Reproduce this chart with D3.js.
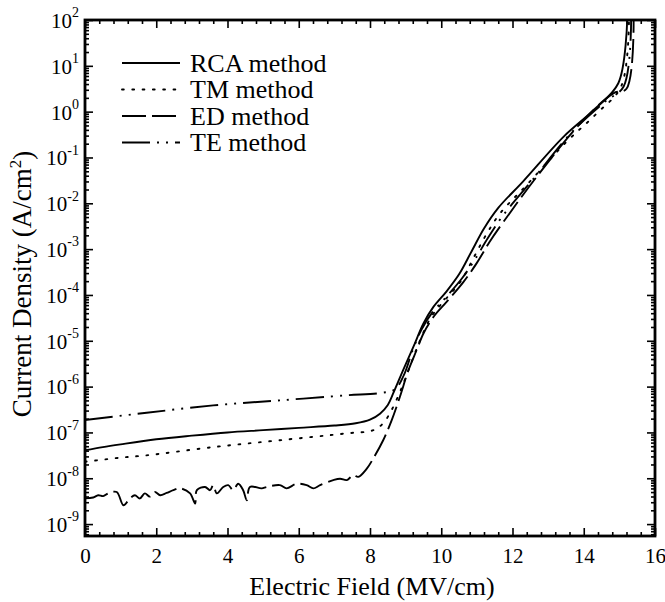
<!DOCTYPE html>
<html>
<head>
<meta charset="utf-8">
<script src="https://cdn.jsdelivr.net/npm/d3@7"></script>
<style>
  html, body { margin: 0; padding: 0; background: #fff; }
  svg { display: block; }
</style>
</head>
<body>
<div id="chart"></div>
<script>
// J-E curves. Current density is kept as log10(J) in A/cm^2.
const xTicks = [0, 2, 4, 6, 8, 10, 12, 14, 16];
const yExponents = [2, 1, 0, -1, -2, -3, -4, -5, -6, -7, -8, -9];

const rcaField = [0, 0.5, 1, 2, 3, 4, 5, 6, 7, 7.6, 8.0, 8.28, 8.5, 8.65, 8.93, 9.22, 9.5, 9.78, 10.15, 10.5, 10.85, 11.2, 11.6, 12.3, 13.43, 14.27, 14.97, 15.22];
const rcaLogJ  = [-7.39, -7.32, -7.26, -7.15, -7.07, -7.0, -6.95, -6.9, -6.85, -6.8, -6.72, -6.59, -6.4, -6.15, -5.64, -5.13, -4.62, -4.26, -3.92, -3.55, -3.05, -2.55, -2.1, -1.52, -0.55, 0.03, 0.62, 2.0];

const tmField = [0, 1, 1.73, 3.6, 5.47, 7.35, 8.1, 8.37, 8.6, 8.85, 9.1, 9.4, 9.7, 10.0, 10.55, 10.9, 11.25, 11.65, 12.4, 13.5, 14.35, 15.05, 15.27];
const tmLogJ  = [-7.64, -7.55, -7.5, -7.32, -7.17, -7.02, -6.95, -6.8, -6.52, -6.1, -5.6, -5.0, -4.5, -4.2, -3.7, -3.2, -2.7, -2.22, -1.6, -0.67, -0.05, 0.55, 2.0];

const edField = [0, 0.23, 0.37, 0.51, 0.65, 0.89, 1.08, 1.26, 1.4, 1.54, 1.68, 1.82, 1.96, 2.11, 2.29, 2.48, 2.67, 2.95, 3.09, 3.14, 3.37, 3.51, 3.6, 3.7, 3.88, 4.02, 4.16, 4.3, 4.44, 4.54, 4.63, 4.96, 5.1, 5.47, 5.66, 5.94, 6.22, 6.41, 6.6, 6.97, 7.16, 7.35, 7.53, 7.67, 7.91, 8.09, 8.37, 8.61, 8.84, 9.08, 9.31, 9.5, 9.78, 10.15, 10.62, 11.0, 11.35, 11.75, 12.68, 13.9, 14.83, 15.2, 15.4];
const edLogJ  = [-8.44, -8.42, -8.37, -8.39, -8.33, -8.3, -8.59, -8.44, -8.37, -8.44, -8.33, -8.4, -8.3, -8.37, -8.32, -8.26, -8.22, -8.33, -8.55, -8.26, -8.19, -8.26, -8.15, -8.33, -8.19, -8.15, -8.26, -8.12, -8.26, -8.48, -8.19, -8.22, -8.19, -8.15, -8.22, -8.12, -8.15, -8.22, -8.15, -8.04, -8.01, -8.04, -7.93, -7.97, -7.79, -7.57, -7.17, -6.73, -6.22, -5.64, -5.2, -4.84, -4.48, -4.15, -3.72, -3.3, -2.85, -2.4, -1.42, -0.26, 0.4, 0.5, 2.0];

const teField = [0, 1.73, 3.6, 5.47, 7.35, 8.28, 8.7, 8.95, 9.2, 9.45, 9.75, 10.1, 10.6, 10.95, 11.3, 11.7, 12.55, 13.7, 14.6, 15.12, 15.33];
const teLogJ  = [-6.73, -6.57, -6.41, -6.3, -6.19, -6.14, -6.06, -5.75, -5.2, -4.75, -4.38, -4.08, -3.62, -3.22, -2.77, -2.3, -1.5, -0.42, 0.22, 0.55, 2.0];

const seriesNames = ['RCA method', 'TM method', 'ED method', 'TE method'];

const W = 665, H = 602;
const margin = { top: 20, right: 10, bottom: 66, left: 85 };
const FONT = '"Liberation Serif", "Times New Roman", serif';

const svg = d3.select('#chart').append('svg')
    .attr('width', W).attr('height', H)
    .attr('font-family', FONT);

const x = d3.scaleLinear().domain([0, 16]).range([margin.left, W - margin.right]);
const y = d3.scaleLog().domain([Math.pow(10, -9.26), 100]).range([H - margin.bottom, margin.top]);

// minor ticks
const xMinor = d3.range(0, 16.01, 0.4).filter(v => Math.abs(v / 2 - Math.round(v / 2)) > 1e-6);
const yMinor = [];
for (let e = -10; e < 2; e++) for (let k = 2; k <= 9; k++) {
    const v = k * Math.pow(10, e);
    if (v >= y.domain()[0] && v <= 100) yMinor.push(v);
}
const yMajor = yExponents.map(e => Math.pow(10, e));

function styleAxis(g) {
    g.select('.domain').remove();
    g.selectAll('line').attr('stroke', '#000').attr('stroke-width', 1.6);
}

const x0 = x.range()[0], x1 = x.range()[1], y0 = y.range()[0], y1 = y.range()[1];

// bottom
svg.append('g').attr('transform', `translate(0,${y0})`)
    .call(d3.axisBottom(x).tickValues(xTicks).tickSize(-8).tickPadding(12).tickFormat(d3.format('d')))
    .call(styleAxis)
    .selectAll('text').attr('font-size', 21).attr('font-family', FONT).attr('fill', '#000');
svg.append('g').attr('transform', `translate(0,${y0})`)
    .call(d3.axisBottom(x).tickValues(xMinor).tickSize(-4).tickFormat(''))
    .call(styleAxis);
// top
svg.append('g').attr('transform', `translate(0,${y1})`)
    .call(d3.axisTop(x).tickValues(xTicks).tickSize(-8).tickFormat(''))
    .call(styleAxis);
svg.append('g').attr('transform', `translate(0,${y1})`)
    .call(d3.axisTop(x).tickValues(xMinor).tickSize(-4).tickFormat(''))
    .call(styleAxis);
// left
const yAx = svg.append('g').attr('transform', `translate(${x0},0)`)
    .call(d3.axisLeft(y).tickValues(yMajor).tickSize(-8).tickPadding(6).tickFormat(''))
    .call(styleAxis);
yAx.selectAll('.tick text').each(function (d) {
    const t = d3.select(this)
        .attr('font-size', 21).attr('font-family', FONT).attr('fill', '#000')
        .attr('dy', '0.35em');
    t.append('tspan').text('10');
    t.append('tspan').attr('font-size', 14).attr('dy', '-0.75em').text(Math.round(Math.log10(d)));
});
svg.append('g').attr('transform', `translate(${x0},0)`)
    .call(d3.axisLeft(y).tickValues(yMinor).tickSize(-4).tickFormat(''))
    .call(styleAxis);
// right
svg.append('g').attr('transform', `translate(${x1},0)`)
    .call(d3.axisRight(y).tickValues(yMajor).tickSize(-8).tickFormat(''))
    .call(styleAxis);
svg.append('g').attr('transform', `translate(${x1},0)`)
    .call(d3.axisRight(y).tickValues(yMinor).tickSize(-4).tickFormat(''))
    .call(styleAxis);

// frame
svg.append('rect')
    .attr('x', x0).attr('y', y1).attr('width', x1 - x0).attr('height', y0 - y1)
    .attr('fill', 'none').attr('stroke', '#000').attr('stroke-width', 2.8);

// clip
svg.append('clipPath').attr('id', 'plotClip').append('rect')
    .attr('x', x0).attr('y', y1).attr('width', x1 - x0).attr('height', y0 - y1);

const styles = [
    { dash: null },
    { dash: '1.8 8.5' },
    { dash: '24 6' },
    { dash: '28 7 2 7 2 7' }
];

function toPoints(xs, ls) {
    return xs.map((v, i) => [v, Math.pow(10, ls[i])]);
}
const series = [
    toPoints(rcaField, rcaLogJ),
    toPoints(tmField, tmLogJ),
    toPoints(edField, edLogJ),
    toPoints(teField, teLogJ)
];

const line = d3.line()
    .x(d => x(d[0]))
    .y(d => y(d[1]))
    .curve(d3.curveCatmullRom.alpha(0.5));

const plot = svg.append('g').attr('clip-path', 'url(#plotClip)');
series.forEach((pts, i) => {
    plot.append('path')
        .attr('d', line(pts))
        .attr('fill', 'none')
        .attr('stroke', '#000')
        .attr('stroke-width', 1.9)
        .attr('stroke-linecap', i === 1 ? 'round' : 'butt')
        .attr('stroke-dasharray', styles[i].dash);
});

// legend
const legend = svg.append('g');
seriesNames.forEach((name, i) => {
    const ly = 63 + i * 26.5;
    legend.append('line')
        .attr('x1', 122).attr('x2', 180).attr('y1', ly).attr('y2', ly)
        .attr('stroke', '#000').attr('stroke-width', 1.9)
        .attr('stroke-linecap', i === 1 ? 'round' : 'butt')
        .attr('stroke-dasharray', styles[i].dash);
    legend.append('text')
        .attr('x', 190).attr('y', ly).attr('dy', '0.33em')
        .attr('font-size', 26)
        .text(name);
});

// axis titles
svg.append('text')
    .attr('x', (x0 + x1) / 2 + 2).attr('y', 595)
    .attr('text-anchor', 'middle').attr('font-size', 26)
    .text('Electric Field (MV/cm)');

const yt = svg.append('text')
    .attr('transform', `translate(31,${(y0 + y1) / 2 + 6}) rotate(-90)`)
    .attr('text-anchor', 'middle').attr('font-size', 27);
yt.append('tspan').text('Current Density (A/cm');
yt.append('tspan').attr('font-size', 17).attr('dy', '-0.6em').text('2');
yt.append('tspan').attr('dy', '0.4em').text(')');
</script>
</body>
</html>
